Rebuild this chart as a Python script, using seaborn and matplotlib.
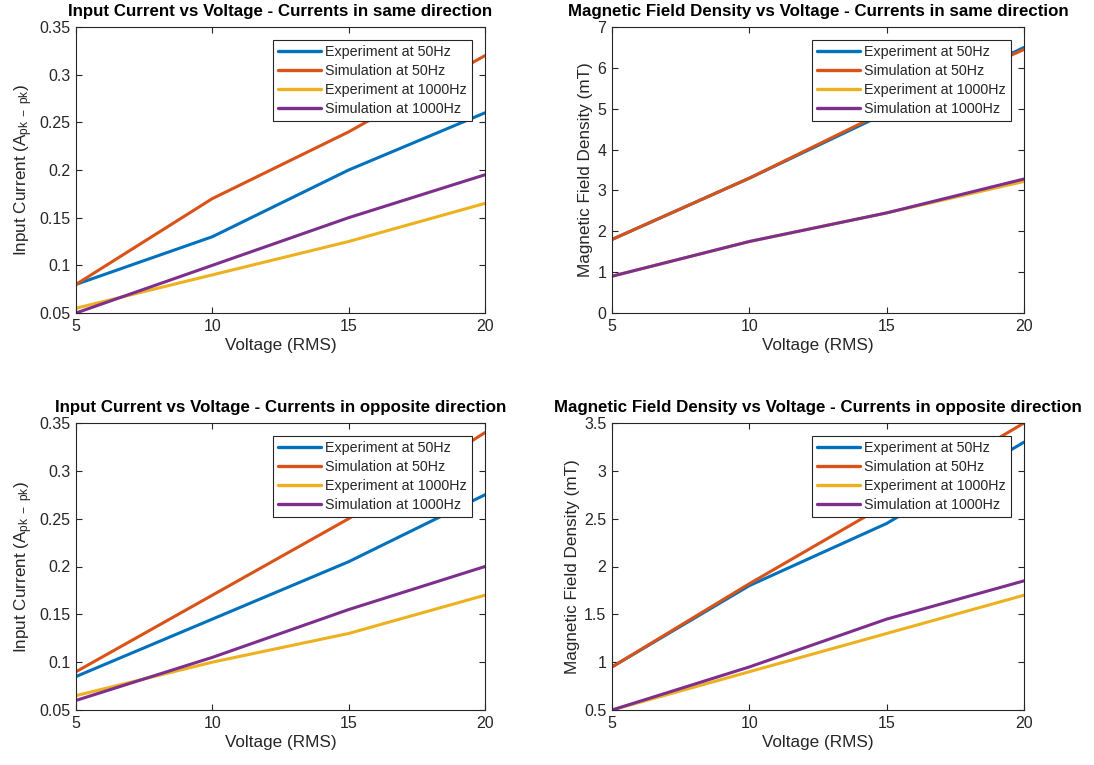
import numpy as np
import pandas as pd
import matplotlib
matplotlib.use("Agg")
import matplotlib.pyplot as plt
import seaborn as sns

voltage = [5, 10, 15, 20]
series_names = ["Experiment at 50Hz", "Simulation at 50Hz",
                "Experiment at 1000Hz", "Simulation at 1000Hz"]
colors = ["#0072BD", "#D95319", "#EDB120", "#7E2F8E"]

# Input current, same direction
i_same_exp50 = [0.08, 0.13, 0.20, 0.26]
i_same_sim50 = [0.08, 0.17, 0.24, 0.32]
i_same_exp1000 = [0.055, 0.09, 0.125, 0.165]
i_same_sim1000 = [0.05, 0.10, 0.15, 0.195]

# Magnetic field density, same direction
b_same_exp50 = [1.8, 3.3, 4.9, 6.5]
b_same_sim50 = [1.8, 3.3, 4.95, 6.45]
b_same_exp1000 = [0.9, 1.75, 2.45, 3.22]
b_same_sim1000 = [0.9, 1.75, 2.45, 3.28]

# Input current, opposite direction
i_opp_exp50 = [0.085, 0.145, 0.205, 0.275]
i_opp_sim50 = [0.09, 0.17, 0.25, 0.34]
i_opp_exp1000 = [0.065, 0.10, 0.13, 0.17]
i_opp_sim1000 = [0.06, 0.105, 0.155, 0.20]

# Magnetic field density, opposite direction
b_opp_exp50 = [0.95, 1.8, 2.45, 3.3]
b_opp_sim50 = [0.95, 1.82, 2.65, 3.5]
b_opp_exp1000 = [0.5, 0.9, 1.3, 1.7]
b_opp_sim1000 = [0.5, 0.95, 1.45, 1.85]

titles = ["Input Current vs Voltage - Currents in same direction",
          "Magnetic Field Density vs Voltage - Currents in same direction",
          "Input Current vs Voltage - Currents in opposite direction",
          "Magnetic Field Density vs Voltage - Currents in opposite direction"]
cur_label = r"Input Current (A$_{\mathrm{pk\ -\ pk}}$)"
b_label = "Magnetic Field Density (mT)"
ylabels = [cur_label, b_label, cur_label, b_label]
yticks_list = [[0.05, 0.1, 0.15, 0.2, 0.25, 0.3, 0.35],
               [0, 1, 2, 3, 4, 5, 6, 7],
               [0.05, 0.1, 0.15, 0.2, 0.25, 0.3, 0.35],
               [0.5, 1, 1.5, 2, 2.5, 3, 3.5]]
ytick_labels = [["0.05", "0.1", "0.15", "0.2", "0.25", "0.3", "0.35"],
                ["0", "1", "2", "3", "4", "5", "6", "7"],
                ["0.05", "0.1", "0.15", "0.2", "0.25", "0.3", "0.35"],
                ["0.5", "1", "1.5", "2", "2.5", "3", "3.5"]]
xticks = [5, 10, 15, 20]

panels = [
    [i_same_exp50, i_same_sim50, i_same_exp1000, i_same_sim1000],
    [b_same_exp50, b_same_sim50, b_same_exp1000, b_same_sim1000],
    [i_opp_exp50, i_opp_sim50, i_opp_exp1000, i_opp_sim1000],
    [b_opp_exp50, b_opp_sim50, b_opp_exp1000, b_opp_sim1000],
]

sns.set_theme(style="white")
plt.rcParams['font.family'] = ['Liberation Sans', 'DejaVu Sans']
plt.rcParams['mathtext.fontset'] = 'custom'
plt.rcParams['mathtext.rm'] = 'Liberation Sans'
plt.rcParams['mathtext.it'] = 'Liberation Sans:italic'
plt.rcParams['mathtext.bf'] = 'Liberation Sans:bold'

axcol = "#262626"
fig = plt.figure(figsize=(10.94, 7.65), dpi=100)
W, H = 1094, 765
boxes = [(76, 27, 485, 313), (612, 27, 1024, 313),
         (76, 423, 485, 710), (612, 423, 1024, 710)]

for k in range(4):
    x0, y0, x1, y1 = boxes[k]
    ax = fig.add_axes([x0 / W, 1 - y1 / H, (x1 - x0) / W, (y1 - y0) / H])
    rows = []
    for name, vals in zip(series_names, panels[k]):
        for v, y in zip(voltage, vals):
            rows.append({"Voltage": v, "Value": y, "Series": name})
    df = pd.DataFrame(rows)
    sns.lineplot(data=df, x="Voltage", y="Value", hue="Series",
                 hue_order=series_names, palette=colors, linewidth=2.2,
                 ax=ax, errorbar=None, sort=True)
    ax.set_xlim(5, 20)
    ax.set_ylim(yticks_list[k][0], yticks_list[k][-1])
    ax.set_xticks(xticks)
    ax.set_xticklabels([str(x) for x in xticks])
    ax.set_yticks(yticks_list[k])
    ax.set_yticklabels(ytick_labels[k])
    ax.tick_params(direction="in", length=4, width=0.8, colors=axcol,
                   labelsize=11.5, top=True, right=True, bottom=True, left=True,
                   pad=4)
    for sp in ax.spines.values():
        sp.set_color(axcol)
        sp.set_linewidth(0.8)
    ax.set_xlabel("Voltage (RMS)", fontsize=12.3, color=axcol, labelpad=3)
    ax.set_ylabel(ylabels[k], fontsize=12.3, color=axcol, labelpad=3)
    ax.set_title(titles[k], fontsize=12.2, fontweight="bold", color="black", pad=8)
    leg = ax.legend(loc="upper right", fontsize=10.3, frameon=True, fancybox=False,
                    borderaxespad=0.9, handlelength=3.0, handletextpad=0.3,
                    labelspacing=0.35, borderpad=0.35)
    leg.get_frame().set_edgecolor(axcol)
    leg.get_frame().set_linewidth(0.8)
    leg.get_frame().set_alpha(1)
    for line in leg.get_lines():
        line.set_linewidth(2.4)

fig.savefig("out.png", dpi=100, facecolor="white")
